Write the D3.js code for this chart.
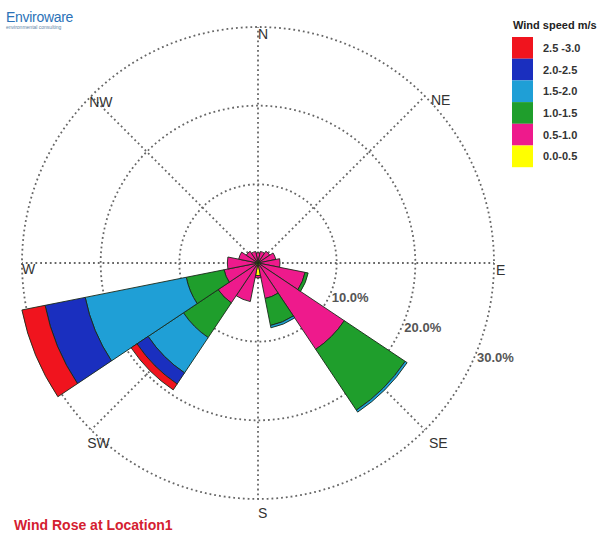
<!DOCTYPE html>
<html>
<head>
<meta charset="utf-8">
<script src="https://cdn.jsdelivr.net/npm/d3@7"></script>
<style>
  html, body { margin: 0; padding: 0; background: #fff; }
  svg { display: block; font-family: "Liberation Sans", Arial, sans-serif; }
</style>
</head>
<body>
<svg id="chart" width="605" height="540"></svg>
<script>
// Wind rose: frequency (%) per direction sector, stacked by wind speed class
const directions = ["N","NNE","NE","ENE","E","ESE","SE","SSE","S","SSW","SW","WSW","W","WNW","NW","NNW"];
const speedBins  = ["0.0-0.5","0.5-1.0","1.0-1.5","1.5-2.0","2.0-2.5","2.5 -3.0"];
const binColors  = ["#ffff00","#ee1a8c","#1f9e2c","#1f9fd6","#1a2fbf","#f0141e"];

const speed00_05 = [0.3,0.3,0.3,0.3,0.3,0.4,0.4,0.4,1.6,0.4,0.4,0.4,0.3,0.3,0.3,0.3];
const speed05_10 = [1.0,1.2,1.5,2.0,2.5,5.7,12.8,4.2,0.3,4.6,5.7,4.0,3.6,2.2,1.5,1.2];
const speed10_15 = [0,0,0,0,0,0.4,9.3,3.5,0,0,5.3,4.9,0,0,0,0];
const speed15_20 = [0,0,0,0,0,0,0.3,0.3,0,0,5.4,13.1,0,0,0,0];
const speed20_25 = [0,0,0,0,0,0,0,0,0,0,1.7,5.2,0,0,0,0];
const speed25_30 = [0,0,0,0,0,0,0,0,0,0,0.9,3.0,0,0,0,0];

const ringTicks   = [10, 20, 30];
const compassLabels = ["N","NE","E","SE","S","SW","W","NW"];

const series = [speed00_05, speed05_10, speed10_15, speed15_20, speed20_25, speed25_30];
const rows = directions.map((d, i) => {
  const row = { dir: d };
  speedBins.forEach((b, k) => { row[b] = series[k][i]; });
  return row;
});

const svg = d3.select("#chart");
const cx = 258, cy = 263;
const rMax = 236;

const r = d3.scaleLinear().domain([0, 30]).range([0, rMax]);
const sector = 2 * Math.PI / directions.length;
const ang = d3.scaleBand().domain(directions).range([0, 2 * Math.PI]);

const color = d3.scaleOrdinal().domain(speedBins).range(binColors);

const g = svg.append("g").attr("transform", `translate(${cx},${cy})`);

const gridStyle = sel => sel
  .attr("fill", "none")
  .attr("stroke", "#666")
  .attr("stroke-width", 1.8)
  .attr("stroke-dasharray", "1.8,3");

// grid rings
g.selectAll("circle.ring").data(ringTicks).join("circle")
  .attr("class", "ring")
  .attr("r", d => r(d))
  .call(gridStyle);

// spokes every 45°
g.selectAll("line.spoke").data(compassLabels).join("line")
  .attr("class", "spoke")
  .attr("x1", 0).attr("y1", 0)
  .attr("x2", (d, i) => r(30) * Math.sin(i * Math.PI / 4))
  .attr("y2", (d, i) => -r(30) * Math.cos(i * Math.PI / 4))
  .call(gridStyle);

// stacked sectors
const stacked = d3.stack().keys(speedBins)(rows);
const arc = d3.arc()
  .innerRadius(d => r(d[0]))
  .outerRadius(d => r(d[1]))
  .startAngle(d => ang(d.data.dir) - sector / 2)
  .endAngle(d => ang(d.data.dir) + sector / 2);

g.selectAll("g.layer").data(stacked).join("g")
  .attr("class", "layer")
  .attr("fill", d => color(d.key))
  .selectAll("path")
  .data(d => d.filter(s => s[1] > s[0]))
  .join("path")
  .attr("d", arc)
  .attr("stroke", "#1a2a1a")
  .attr("stroke-width", 0.9)
  .attr("stroke-linejoin", "round");

// ring value labels along the ESE bearing
const labAng = ang("ESE");
g.selectAll("text.ringlab").data(ringTicks).join("text")
  .attr("class", "ringlab")
  .attr("x", d => r(d) * Math.sin(labAng) + 1)
  .attr("y", d => -r(d) * Math.cos(labAng) + 9)
  .attr("font-size", 13)
  .attr("font-weight", "bold")
  .attr("fill", "#555")
  .text(d => d3.format(".1f")(d) + "%");

// compass labels
const labOffset = { N: [0, 2], NE: [6, -2], E: [2, 2], SE: [4, 8], S: [0, 9], SW: [-4, 8], W: [0, 1], NW: [-2, 0] };
g.selectAll("text.compass").data(compassLabels).join("text")
  .attr("class", "compass")
  .attr("x", (d, i) => r(30) * Math.sin(i * Math.PI / 4) + labOffset[d][0])
  .attr("y", (d, i) => -r(30) * Math.cos(i * Math.PI / 4) + labOffset[d][1])
  .attr("dominant-baseline", "hanging")
  .attr("font-size", 14)
  .attr("fill", "#333")
  .text(d => d);

// legend
const legend = svg.append("g").attr("transform", "translate(512,37)");
legend.append("text")
  .attr("x", 1).attr("y", -8)
  .attr("font-size", 11).attr("font-weight", "bold").attr("fill", "#222")
  .text("Wind speed m/s");
const legendOrder = speedBins.slice().reverse();
const boxH = 21.7;
legend.selectAll("rect").data(legendOrder).join("rect")
  .attr("x", 0).attr("y", (d, i) => i * boxH)
  .attr("width", 21).attr("height", boxH)
  .attr("fill", d => color(d));
legend.selectAll("text.leg").data(legendOrder).join("text")
  .attr("class", "leg")
  .attr("x", 31).attr("y", (d, i) => i * boxH + boxH / 2 + 4)
  .attr("font-size", 11).attr("font-weight", "bold").attr("fill", "#333")
  .text(d => d);

// logo
svg.append("text")
  .attr("x", 6).attr("y", 22)
  .attr("font-size", 14).attr("fill", "#2b72b8")
  .attr("letter-spacing", -0.3)
  .text("Enviroware");
svg.append("text")
  .attr("x", 6).attr("y", 29)
  .attr("font-size", 5).attr("fill", "#5f86a8")
  .text("environmental consulting");

// caption
svg.append("text")
  .attr("x", 14).attr("y", 530)
  .attr("font-size", 14).attr("font-weight", "bold").attr("fill", "#d42030")
  .text("Wind Rose at Location1");
</script>
</body>
</html>
